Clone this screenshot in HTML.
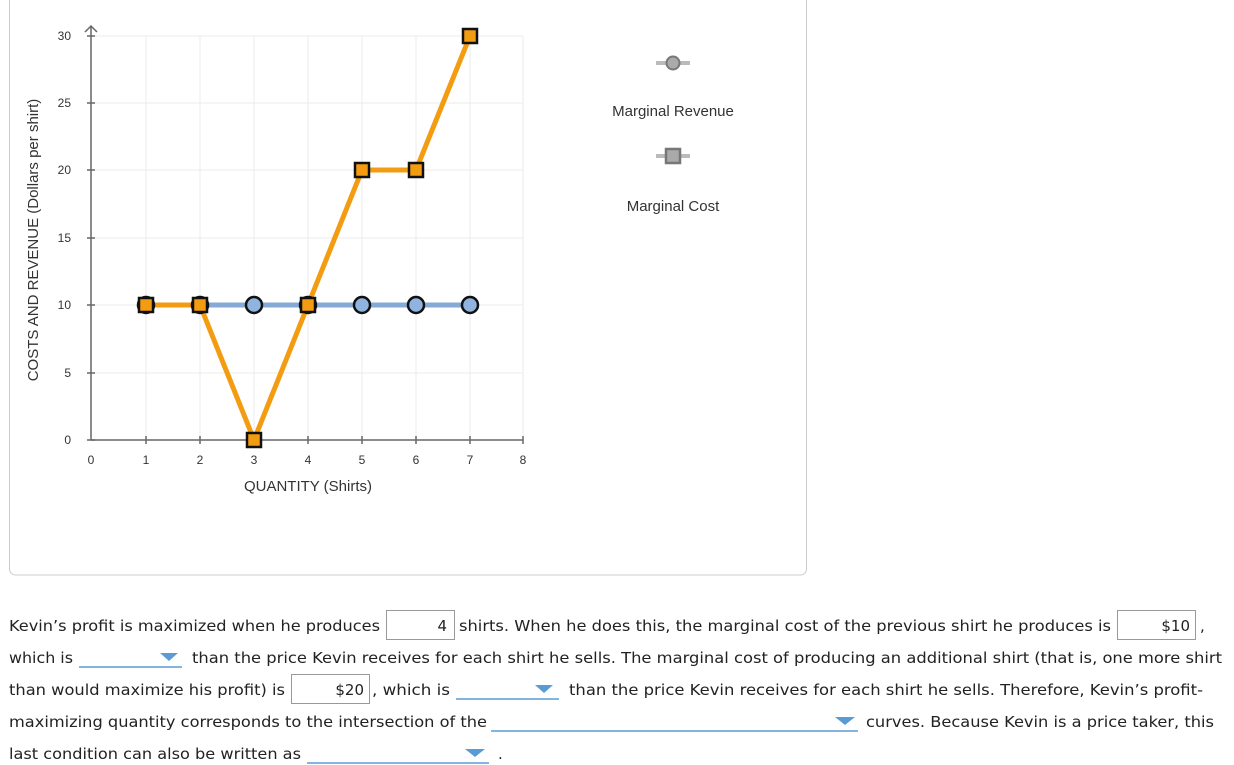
<!DOCTYPE html>
<html><head><meta charset="utf-8"><style>
html,body{margin:0;padding:0;background:#fff;}
svg{display:block;}
.t{font-family:"DejaVu Sans","Liberation Sans",sans-serif;font-size:15px;fill:#222;}
.a{font-family:"Liberation Sans",sans-serif;font-size:12px;fill:#333;}
</style></head><body>
<svg width="1234" height="765" viewBox="0 0 1234 765" xmlns="http://www.w3.org/2000/svg">
<rect x="9.5" y="-10" width="797" height="585" rx="6" fill="#fff" stroke="#ccc"/>
<g stroke="#ebebeb" stroke-width="1">
<line x1="146" y1="36" x2="146" y2="440"/><line x1="200" y1="36" x2="200" y2="440"/><line x1="254" y1="36" x2="254" y2="440"/><line x1="308" y1="36" x2="308" y2="440"/><line x1="362" y1="36" x2="362" y2="440"/><line x1="416" y1="36" x2="416" y2="440"/><line x1="470" y1="36" x2="470" y2="440"/><line x1="523" y1="36" x2="523" y2="440"/>
<line x1="91" y1="36" x2="523" y2="36"/><line x1="91" y1="103" x2="523" y2="103"/><line x1="91" y1="170" x2="523" y2="170"/><line x1="91" y1="238" x2="523" y2="238"/><line x1="91" y1="305" x2="523" y2="305"/><line x1="91" y1="373" x2="523" y2="373"/>
</g>
<g stroke="#666" stroke-width="1.5" fill="none">
<line x1="91" y1="26" x2="91" y2="440"/><polyline points="85,32 91,26 97,32"/>
<line x1="91" y1="440" x2="523" y2="440"/>
<line x1="87" y1="36" x2="95" y2="36"/><line x1="87" y1="103" x2="95" y2="103"/><line x1="87" y1="170" x2="95" y2="170"/><line x1="87" y1="238" x2="95" y2="238"/><line x1="87" y1="305" x2="95" y2="305"/><line x1="87" y1="373" x2="95" y2="373"/><line x1="87" y1="440" x2="95" y2="440"/>
<line x1="146" y1="436" x2="146" y2="444"/><line x1="200" y1="436" x2="200" y2="444"/><line x1="254" y1="436" x2="254" y2="444"/><line x1="308" y1="436" x2="308" y2="444"/><line x1="362" y1="436" x2="362" y2="444"/><line x1="416" y1="436" x2="416" y2="444"/><line x1="470" y1="436" x2="470" y2="444"/><line x1="523" y1="436" x2="523" y2="444"/>
</g>
<g class="a" text-anchor="end">
<text x="71" y="40">30</text><text x="71" y="107">25</text><text x="71" y="174">20</text><text x="71" y="242">15</text><text x="71" y="309">10</text><text x="71" y="377">5</text><text x="71" y="444">0</text>
</g>
<g class="a" text-anchor="middle">
<text x="91" y="464">0</text><text x="146" y="464">1</text><text x="200" y="464">2</text><text x="254" y="464">3</text><text x="308" y="464">4</text><text x="362" y="464">5</text><text x="416" y="464">6</text><text x="470" y="464">7</text><text x="523" y="464">8</text>
</g>
<text class="a" style="font-size:15px" x="308" y="491" text-anchor="middle">QUANTITY (Shirts)</text>
<text class="a" style="font-size:15px" transform="translate(38,240) rotate(-90)" text-anchor="middle">COSTS AND REVENUE (Dollars per shirt)</text>
<polyline points="146,305 470,305" stroke="#86aad6" stroke-width="5" fill="none"/>
<polyline points="146,305 200,305 254,440 308,305 362,170 416,170 470,36" stroke="#f39c12" stroke-width="5" fill="none" stroke-linejoin="round"/>
<g fill="#8fb4e0" stroke="#111" stroke-width="2.5">
<circle cx="146" cy="305" r="8"/><circle cx="200" cy="305" r="8"/><circle cx="254" cy="305" r="8"/><circle cx="308" cy="305" r="8"/><circle cx="362" cy="305" r="8"/><circle cx="416" cy="305" r="8"/><circle cx="470" cy="305" r="8"/>
</g>
<g fill="#f39c12" stroke="#111" stroke-width="2.5">
<rect x="139" y="298" width="14" height="14"/><rect x="193" y="298" width="14" height="14"/><rect x="247" y="433" width="14" height="14"/><rect x="301" y="298" width="14" height="14"/><rect x="355" y="163" width="14" height="14"/><rect x="409" y="163" width="14" height="14"/><rect x="463" y="29" width="14" height="14"/>
</g>
<line x1="656" y1="63" x2="690" y2="63" stroke="#bbb" stroke-width="4"/>
<circle cx="673" cy="63" r="6.5" fill="#aaa" stroke="#777" stroke-width="2"/>
<text class="a" style="font-size:15px" x="673" y="116" text-anchor="middle">Marginal Revenue</text>
<line x1="656" y1="156" x2="690" y2="156" stroke="#bbb" stroke-width="4"/>
<rect x="666" y="149" width="14" height="14" fill="#aaa" stroke="#777" stroke-width="2.5"/>
<text class="a" style="font-size:15px" x="673" y="211" text-anchor="middle">Marginal Cost</text>

<g class="t">
<text x="9" y="631" textLength="371" lengthAdjust="spacingAndGlyphs">Kevin’s profit is maximized when he produces</text>
<text x="459" y="631" textLength="652" lengthAdjust="spacingAndGlyphs">shirts. When he does this, the marginal cost of the previous shirt he produces is</text>
<text x="1200" y="631">,</text>
<text x="9" y="663" textLength="64" lengthAdjust="spacingAndGlyphs">which is</text>
<text x="192" y="663" textLength="1030" lengthAdjust="spacingAndGlyphs">than the price Kevin receives for each shirt he sells. The marginal cost of producing an additional shirt (that is, one more shirt</text>
<text x="9" y="695" textLength="276" lengthAdjust="spacingAndGlyphs">than would maximize his profit) is</text>
<text x="372" y="695" textLength="78" lengthAdjust="spacingAndGlyphs">, which is</text>
<text x="569" y="695" textLength="634" lengthAdjust="spacingAndGlyphs">than the price Kevin receives for each shirt he sells. Therefore, Kevin’s profit-</text>
<text x="9" y="727" textLength="478" lengthAdjust="spacingAndGlyphs">maximizing quantity corresponds to the intersection of the</text>
<text x="866" y="727" textLength="348" lengthAdjust="spacingAndGlyphs">curves. Because Kevin is a price taker, this</text>
<text x="9" y="759" textLength="292" lengthAdjust="spacingAndGlyphs">last condition can also be written as</text>
<text x="498" y="759">.</text>
</g>
<g fill="#fff" stroke="#999">
<rect x="386.5" y="610.5" width="68" height="29"/>
<rect x="1117.5" y="610.5" width="78" height="29"/>
<rect x="291.5" y="674.5" width="78" height="29"/>
</g>
<g stroke="#5b9bd5" stroke-width="1.5">
<line x1="79" y1="667" x2="182" y2="667"/>
<line x1="456" y1="699" x2="559" y2="699"/>
<line x1="491" y1="731" x2="858" y2="731"/>
<line x1="307" y1="763" x2="489" y2="763"/>
</g>
<g fill="#5b9bd5">
<polygon points="160,653 178,653 169,661"/>
<polygon points="535,685 553,685 544,693"/>
<polygon points="835,717 855,717 845,725"/>
<polygon points="465,749 485,749 475,757"/>
</g>
<g class="t">
<text x="447" y="631" text-anchor="end">4</text>
<text x="1190" y="631" text-anchor="end">$10</text>
<text x="364" y="695" text-anchor="end">$20</text>
</g>
</svg>
</body></html>
